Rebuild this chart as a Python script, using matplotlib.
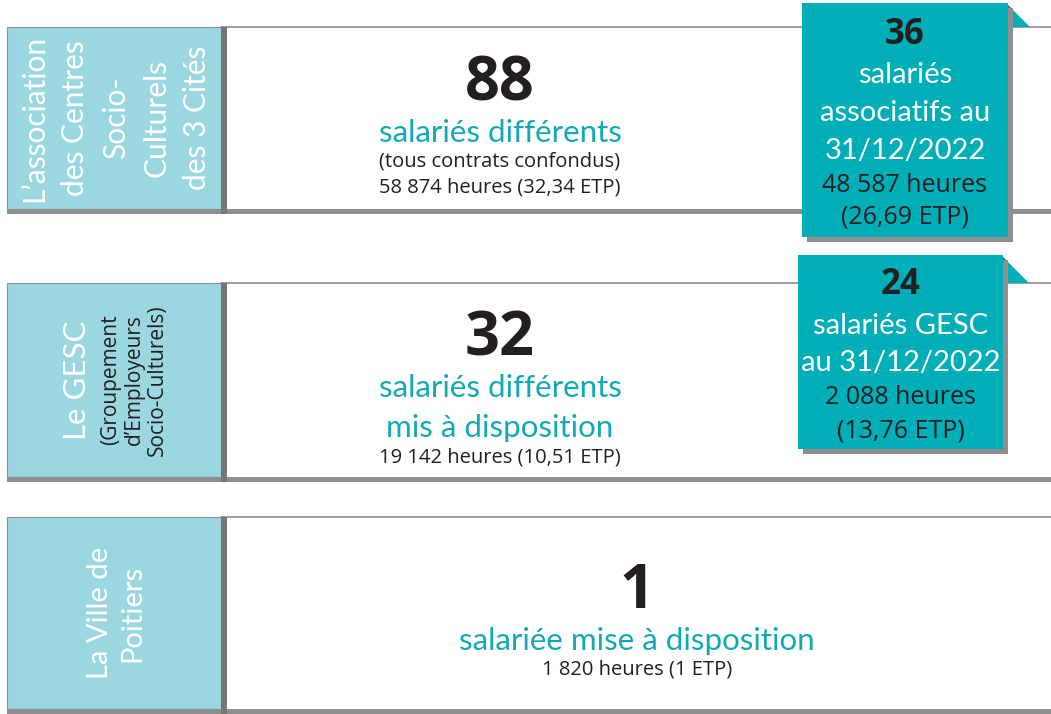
import matplotlib.pyplot as plt
from matplotlib.patches import Rectangle, Polygon

# --- content ---
org_labels = [
    "L\u2019association\ndes Centres\nSocio-\nCulturels\ndes 3 Cités",
    "Le GESC",
    "La Ville de\nPoitiers",
]
org_sublabels = ["", "(Groupement\nd\u2019Employeurs\nSocio-Culturels)", ""]
headcounts = ["88", "32", "1"]
headcount_texts = [
    "salariés différents",
    "salariés différents\nmis à disposition",
    "salariée mise à disposition",
]
notes = ["(tous contrats confondus)", "", ""]
hours_texts = [
    "58 874 heures (32,34 ETP)",
    "19 142 heures (10,51 ETP)",
    "1 820 heures (1 ETP)",
]
callout_counts = ["36", "24"]
callout_texts = ["salariés\nassociatifs au\n31/12/2022", "salariés GESC\nau 31/12/2022"]
callout_hours = ["48 587 heures\n(26,69 ETP)", "2 088 heures\n(13,76 ETP)"]

# --- layout (pixels) ---
W, H = 1051, 714
row_top = [27, 283, 517]
row_bot = [209, 477, 709]
label_x0, label_x1 = 7, 221
callout_box = [(802, 3, 1008, 237), (798, 255, 1003, 449)]

light_blue = "#9bd7e0"
teal = "#00aeb8"
teal_text = "#12a8b4"
grey = "#8e8e8e"
dark_grey = "#767676"
ink = "#231f20"
round_font = ["Lato", "DejaVu Sans"]
sans_font = ["Open Sans", "DejaVu Sans"]

fig = plt.figure(figsize=(W / 100, H / 100), dpi=100)
ax = fig.add_axes([0, 0, 1, 1])
ax.set_xlim(0, W)
ax.set_ylim(H, 0)
ax.set_axis_off()

label_dx = [2, -37, 2]
label_size = [21.5, 22.5, 21]
label_spacing = [1.55, 1.2, 1.3]
for i in range(3):
    top, bot = row_top[i], row_bot[i]
    # thin top line and thick bottom line of the band
    ax.plot([label_x1, W], [top, top], color=grey, lw=1.2, zorder=1)
    ax.add_patch(Rectangle((label_x0, bot), W - label_x0, 5, color=grey, lw=0, zorder=2))
    # label box
    ax.add_patch(Rectangle((label_x0, top), label_x1 - label_x0, bot - top,
                           facecolor=light_blue, edgecolor=grey, lw=0.8, zorder=2))
    ax.add_patch(Rectangle((label_x1, top), 6, bot - top + 5, color=dark_grey, lw=0, zorder=3))

    lx = (label_x0 + label_x1) / 2
    ly = (top + bot) / 2
    ax.text(lx + label_dx[i], ly, org_labels[i], rotation=90, ha="center", va="center",
            color="white", fontsize=label_size[i], family=round_font,
            multialignment="center", linespacing=label_spacing[i], zorder=4)
    if org_sublabels[i]:
        ax.text(lx + 20, ly, org_sublabels[i], rotation=90, ha="center", va="center",
                color=ink, fontsize=15, family=sans_font, linespacing=1.15,
                multialignment="center", zorder=4)

# main text in each band
centre_x = [500, 500, 637]
num_y = [85, 340, 592]
sub_y = [[133], [388, 428], [641]]
note_y = [161, None, None]
hrs_y = [187, 457, 670]
for i in range(3):
    ax.text(centre_x[i], num_y[i], headcounts[i], ha="center", va="center",
            color=ink, fontsize=44, fontweight="bold", family=sans_font, zorder=4)
    for line, y in zip(headcount_texts[i].split("\n"), sub_y[i]):
        ax.text(centre_x[i], y, line, ha="center", va="center", color=teal_text,
                fontsize=22.5, family=round_font, zorder=4)
    if notes[i]:
        ax.text(centre_x[i], note_y[i], notes[i], ha="center", va="center",
                color=ink, fontsize=14.5, family=sans_font, zorder=4)
    ax.text(centre_x[i], hrs_y[i], hours_texts[i], ha="center", va="center",
            color=ink, fontsize=14.5, family=sans_font, zorder=4)

# callout boxes
callout_num_y = [35, 285]
callout_txt_y = [[75, 113, 151], [326, 363]]
callout_hrs_y = [[185, 217], [397, 431]]
for j, (x0, y0, x1, y1) in enumerate(callout_box):
    ax.add_patch(Rectangle((x0 + 5, y0 + 5), x1 - x0, y1 - y0, color=grey, lw=0, zorder=5))
    ax.add_patch(Rectangle((x0, y0), x1 - x0, y1 - y0, color=teal, lw=0, zorder=6))
    ry = row_top[j]
    ax.add_patch(Polygon([(x1, y0 + 2), (x1, ry), (x1 + ry - y0 - 2, ry)],
                         closed=True, color=teal, lw=0, zorder=4))
    ax.add_patch(Polygon([(x1, y0 + 2), (x1, ry), (x1 + 5, ry), (x1 + 5, y0 + 7)],
                         closed=True, color="#2b7f86", lw=0, zorder=4))
    cx = (x0 + x1) / 2
    ax.text(cx, callout_num_y[j], callout_counts[j], ha="center", va="center",
            color=ink, fontsize=25, fontweight="bold", family=sans_font, zorder=7)
    for line, y in zip(callout_texts[j].split("\n"), callout_txt_y[j]):
        ax.text(cx, y, line, ha="center", va="center", color="white",
                fontsize=21, family=round_font, zorder=7)
    for line, y in zip(callout_hours[j].split("\n"), callout_hrs_y[j]):
        ax.text(cx, y, line, ha="center", va="center", color=ink,
                fontsize=18, family=sans_font, zorder=7)

fig.savefig("out.png", dpi=100)
